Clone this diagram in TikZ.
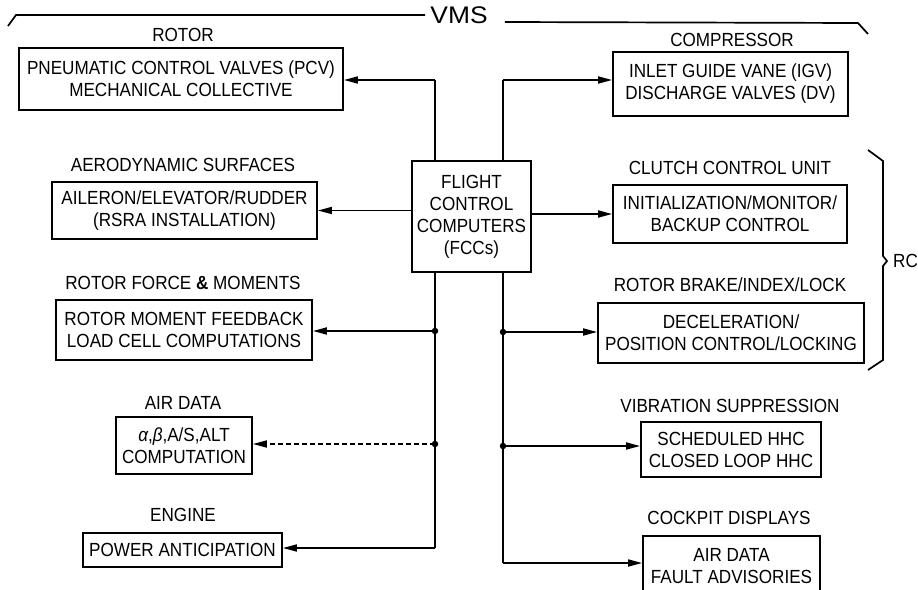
\documentclass[tikz,border=0pt]{standalone}
\usepackage{fontspec}
\setmainfont{Liberation Sans}[FakeStretch=0.9]
\newfontfamily\vmsfont{Liberation Sans}[FakeStretch=1.1]
\usetikzlibrary{arrows.meta}
\begin{document}
\begin{tikzpicture}[x=1pt,y=-1pt,
  box/.style={draw, line width=1.8pt, align=center, inner sep=0pt, font=\fontsize{19}{22}\selectfont},
  lbl/.style={align=center, inner sep=0pt, font=\fontsize{19}{22}\selectfont},
  wire/.style={line width=1.7pt},
  arr/.style={wire, -{Triangle[length=14pt,width=7pt]}},
  dotnode/.style={circle, fill, inner sep=0pt, minimum size=6.5pt}]
\useasboundingbox (0,0) rectangle (918,589);

% VMS header
\node[font=\vmsfont\fontsize{24}{24}\selectfont, inner sep=0pt] (vms) at (459,15) {VMS};
\draw[wire] (vms.west) ++(-5,0) -- (16,15) -- (8,26);
\draw[wire] (vms.east) ++(17,7) -- (858,23) -- (868,34);

% labels
\node[lbl] (lrotor) at (183,35) {ROTOR};
\node[lbl] (lcomp) at (732,40) {COMPRESSOR};
\node[lbl] (laero) at (183,165) {AERODYNAMIC SURFACES};
\node[lbl] (lclutch) at (730,168) {CLUTCH CONTROL UNIT};
\node[lbl] (lrforce) at (183,283) {ROTOR FORCE \textbf{\&} MOMENTS};
\node[lbl] (lrbrake) at (730,285) {ROTOR BRAKE/INDEX/LOCK};
\node[lbl] (lair) at (183,403) {AIR DATA};
\node[lbl] (lvib) at (730,406) {VIBRATION SUPPRESSION};
\node[lbl] (leng) at (183,515) {ENGINE};
\node[lbl] (lcock) at (729,518) {COCKPIT DISPLAYS};

% boxes
\node[box, minimum width=324pt, minimum height=62pt] (rotor) at (181,79) {PNEUMATIC CONTROL VALVES (PCV)\\MECHANICAL COLLECTIVE};
\node[box, minimum width=235pt, minimum height=64pt] (comp) at (730.5,84) {INLET GUIDE VANE (IGV)\\DISCHARGE VALVES (DV)};
\node[box, minimum width=265pt, minimum height=57pt] (aero) at (184.5,210.5) {AILERON/ELEVATOR/RUDDER\\(RSRA INSTALLATION)};
\node[box, minimum width=234pt, minimum height=58pt] (clutch) at (730,214) {INITIALIZATION/MONITOR/\\BACKUP CONTROL};
\node[box, minimum width=256pt, minimum height=60pt] (rforce) at (184,330) {ROTOR MOMENT FEEDBACK\\LOAD CELL COMPUTATIONS};
\node[box, minimum width=266pt, minimum height=60pt] (rbrake) at (731,333) {DECELERATION/\\POSITION CONTROL/LOCKING};
\node[box, minimum width=136pt, minimum height=57pt] (airdata) at (184,445.5) {\textit{α},\textit{β},A/S,ALT\\COMPUTATION};
\node[box, minimum width=180pt, minimum height=55pt] (vib) at (731,449.5) {SCHEDULED HHC\\CLOSED LOOP HHC};
\node[box, minimum width=199pt, minimum height=34pt] (engine) at (182.5,550) {POWER ANTICIPATION};
\node[box, minimum width=177pt, minimum height=60pt] (cockpit) at (731.5,566) {AIR DATA\\FAULT ADVISORIES};
\node[box, minimum width=119pt, minimum height=111pt] (fcc) at (471.5,216.5) {FLIGHT\\CONTROL\\COMPUTERS\\(FCCs)};

% bus coordinates
\coordinate (ltop) at (435,80);
\coordinate (rtop) at (503,80);
\coordinate (lbot) at (435,548);
\coordinate (rbot) at (503,563);
\coordinate (d1) at (435,331);
\coordinate (d2) at (435,444);
\coordinate (d3) at (503,332);
\coordinate (d4) at (503,446);

% connectors
\draw[wire] (fcc.north -| ltop) -- (ltop);
\draw[arr] (ltop) -- (rotor.east |- ltop);
\draw[wire] (fcc.north -| rtop) -- (rtop);
\draw[arr] (rtop) -- (comp.west |- rtop);
\draw[arr] (fcc.west |- aero.east) -- (aero.east);
\draw[arr] (fcc.east |- clutch.west) -- (clutch.west);
\draw[wire] (fcc.south -| ltop) -- (lbot);
\draw[arr] (lbot) -- (engine.east |- lbot);
\draw[arr] (d1) -- (rforce.east |- d1);
\draw[arr, dash pattern=on 5pt off 3pt] (d2) -- (airdata.east |- d2);
\draw[wire] (fcc.south -| rtop) -- (rbot);
\draw[arr] (rbot) -- (cockpit.west |- rbot);
\draw[arr] (d3) -- (rbrake.west |- d3);
\draw[arr] (d4) -- (vib.west |- d4);
\node[dotnode] (n1) at (d1) {};
\node[dotnode] (n2) at (d2) {};
\node[dotnode] (n3) at (d3) {};
\node[dotnode] (n4) at (d4) {};

% RC brace
\node[lbl, anchor=west] (rc) at (893,261) {RC};
\coordinate (bp) at (887,261);
\draw[wire] (868,150) -- (883,161) -- (883,256) -- (bp) -- (883,266) -- (883,360) -- (868,370);
\end{tikzpicture}
\end{document}
